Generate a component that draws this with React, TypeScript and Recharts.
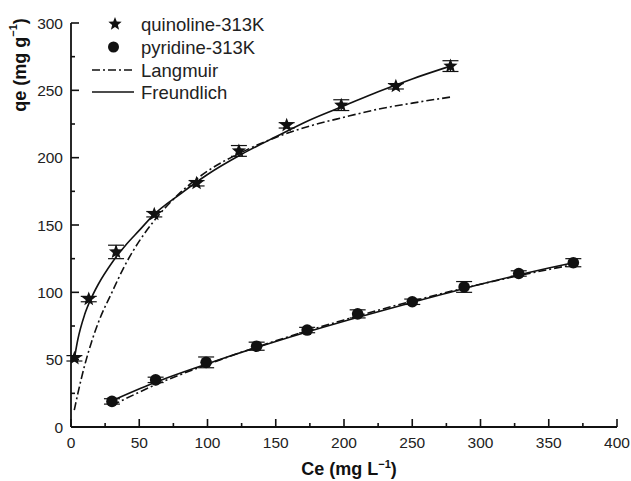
import React from 'react';
import { ComposedChart, Line, Scatter, XAxis, YAxis, ErrorBar, Legend, Label } from 'recharts';

const quinolineCe = [2.5, 13, 33, 61, 92, 123, 158, 198, 238, 278];
const quinolineQe = [51, 95, 130, 158, 181, 205, 224, 239, 253, 268];
const quinolineErr = [2, 2, 5, 2, 2, 4, 2, 4, 2, 4];

const pyridineCe = [30, 62, 99, 136, 173, 210, 250, 288, 328, 368];
const pyridineQe = [19, 35, 48, 60, 72, 84, 93, 104, 114, 122];
const pyridineErr = [2, 2, 4, 3, 2, 3, 2, 4, 2, 3];

// Fitted curves
const quinolineFitCe = [2.4, 5, 10, 15, 20, 30, 40, 50, 60, 80, 100, 125, 150, 175, 200, 225, 250, 278];
const quinolineFreundlich = [50.5, 65, 83.5, 96, 106, 122, 135, 146, 157, 173, 187.5, 202.5, 215.5, 228, 238.5, 249, 258.5, 268];
const quinolineLangmuir = [12.5, 24.8, 45.7, 63, 77.5, 100, 121, 138, 152, 174, 190, 204, 215, 223.5, 230, 236, 240.5, 245];

const pyridineFitCe = [30, 60, 100, 150, 200, 250, 300, 350, 368];
const pyridineFreundlich = [19.5, 32.5, 47, 63.5, 78.5, 92.5, 106, 118, 122];
const pyridineLangmuir = [16, 30.5, 46.5, 64, 79.5, 93.5, 106, 117, 120.5];

const xTicks = [0, 25, 50, 75, 100, 125, 150, 175, 200, 225, 250, 275, 300, 325, 350, 375, 400];
const yTicks = [0, 25, 50, 75, 100, 125, 150, 175, 200, 225, 250, 275, 300];

const legendItems = ['quinoline-313K', 'pyridine-313K', 'Langmuir', 'Freundlich'];

const zip = (xs: number[], ys: number[], errs?: number[]) =>
  xs.map((x, i) => ({ x, y: ys[i], ...(errs ? { err: errs[i] } : {}) }));

const FONT = '"Liberation Sans", Arial, sans-serif';
const INK = '#111';

const starPath = (cx: number, cy: number, ro: number, ri: number) => {
  let d = '';
  for (let i = 0; i < 10; i++) {
    const r = i % 2 === 0 ? ro : ri;
    const a = -Math.PI / 2 + (i * Math.PI) / 5;
    d += (i === 0 ? 'M' : 'L') + (cx + r * Math.cos(a)).toFixed(2) + ',' + (cy + r * Math.sin(a)).toFixed(2);
  }
  return d + 'Z';
};

const StarShape = (p: any) => <path d={starPath(p.cx, p.cy, 7.5, 3.2)} fill={INK} />;
const CircleShape = (p: any) => <circle cx={p.cx} cy={p.cy} r={5.8} fill={INK} />;

const XTick = (props: any) => {
  const { x, y, payload } = props;
  const v = payload.value;
  const major = v % 50 === 0;
  return (
    <g>
      <line x1={x} x2={x} y1={y} y2={y - (major ? 8 : 4)} stroke={INK} strokeWidth={1.6} />
      {major && (
        <text x={x} y={y + 21} textAnchor="middle" fontFamily={FONT} fontSize={15.5} fill="#222">
          {v}
        </text>
      )}
    </g>
  );
};

const YTick = (props: any) => {
  const { x, y, payload } = props;
  const v = payload.value;
  const major = v % 50 === 0;
  return (
    <g>
      <line x1={x} x2={x + (major ? 8 : 4)} y1={y} y2={y} stroke={INK} strokeWidth={1.6} />
      {major && (
        <text x={x - 8} y={y + 5.5} textAnchor="end" fontFamily={FONT} fontSize={15.5} fill="#222">
          {v}
        </text>
      )}
    </g>
  );
};

const LegendContent = () => (
  <svg width={220} height={95} style={{ display: 'block' }}>
    <path d={starPath(30, 14, 7, 3)} fill={INK} />
    <circle cx={28.5} cy={37} r={5.5} fill={INK} />
    <line x1={7} x2={49} y1={60} y2={60} stroke={INK} strokeWidth={1.5} strokeDasharray="8 3 2 3" />
    <line x1={7} x2={49} y1={82} y2={82} stroke={INK} strokeWidth={1.5} />
    {legendItems.map((t, i) => (
      <text key={t} x={56} y={[14, 37, 60, 82][i] + 6.5} fontFamily={FONT} fontSize={18.5} fill="#222">
        {t}
      </text>
    ))}
  </svg>
);

const YTitle = (props: any) => {
  const vb = props.viewBox || { x: 11, y: 23 };
  const cx = vb.x + 9;
  const cy = vb.y + 42;
  return (
    <text
      x={cx}
      y={cy}
      transform={`rotate(-90 ${cx} ${cy})`}
      textAnchor="middle"
      dominantBaseline="central"
      fontFamily={FONT}
      fontSize={18}
      fontWeight="bold"
      fill="#111"
    >
      qe (mg g<tspan fontSize={11} dy={-7}>−1</tspan>
      <tspan dy={7}>)</tspan>
    </text>
  );
};

const XTitle = (props: any) => {
  const vb = props.viewBox || { x: 71, y: 427, width: 546 };
  const cx = vb.x + vb.width / 2 + 5;
  const cy = vb.y + 48;
  return (
    <text x={cx} y={cy} textAnchor="middle" fontFamily={FONT} fontSize={18} fontWeight="bold" fill="#111">
      Ce (mg L<tspan fontSize={11} dy={-7}>−1</tspan>
      <tspan dy={7}>)</tspan>
    </text>
  );
};

export default function App() {
  return (
    <div style={{ position: 'absolute', left: 0, top: 0, width: 631, height: 481, background: '#fff' }}>
      <ComposedChart width={631} height={481} margin={{ top: 23, right: 14, bottom: 24, left: 11 }}>
        <XAxis
          type="number"
          dataKey="x"
          domain={[0, 400]}
          ticks={xTicks}
          interval={0}
          tickSize={0}
          tickMargin={0}
          tickLine={false}
          tick={<XTick />}
          height={30}
          axisLine={{ stroke: INK, strokeWidth: 1.8 }}
          allowDataOverflow
        >
          <Label content={<XTitle />} />
        </XAxis>
        <YAxis
          type="number"
          dataKey="y"
          domain={[0, 300]}
          ticks={yTicks}
          interval={0}
          tickSize={0}
          tickMargin={0}
          tickLine={false}
          tick={<YTick />}
          width={60}
          axisLine={{ stroke: INK, strokeWidth: 1.8 }}
          allowDataOverflow
        >
          <Label content={<YTitle />} />
        </YAxis>
        <Legend
          layout="vertical"
          align="center"
          verticalAlign="middle"
          content={<LegendContent />}
          wrapperStyle={{ left: 85, top: 10, width: 220, height: 95 }}
        />
        <Line
          data={zip(quinolineFitCe, quinolineLangmuir)}
          dataKey="y"
          type="monotone"
          stroke={INK}
          strokeWidth={1.6}
          strokeDasharray="8 3 2 3"
          dot={false}
          activeDot={false}
          isAnimationActive={false}
        />
        <Line
          data={zip(quinolineFitCe, quinolineFreundlich)}
          dataKey="y"
          type="monotone"
          stroke={INK}
          strokeWidth={1.6}
          dot={false}
          activeDot={false}
          isAnimationActive={false}
        />
        <Line
          data={zip(pyridineFitCe, pyridineLangmuir)}
          dataKey="y"
          type="monotone"
          stroke={INK}
          strokeWidth={1.6}
          strokeDasharray="8 3 2 3"
          dot={false}
          activeDot={false}
          isAnimationActive={false}
        />
        <Line
          data={zip(pyridineFitCe, pyridineFreundlich)}
          dataKey="y"
          type="monotone"
          stroke={INK}
          strokeWidth={1.6}
          dot={false}
          activeDot={false}
          isAnimationActive={false}
        />
        <Scatter
          data={zip(quinolineCe, quinolineQe, quinolineErr)}
          dataKey="y"
          shape={StarShape}
          isAnimationActive={false}
        >
          <ErrorBar dataKey="err" direction="y" width={8} stroke={INK} strokeWidth={1.2} />
        </Scatter>
        <Scatter
          data={zip(pyridineCe, pyridineQe, pyridineErr)}
          dataKey="y"
          shape={CircleShape}
          isAnimationActive={false}
        >
          <ErrorBar dataKey="err" direction="y" width={8} stroke={INK} strokeWidth={1.2} />
        </Scatter>
      </ComposedChart>
    </div>
  );
}
